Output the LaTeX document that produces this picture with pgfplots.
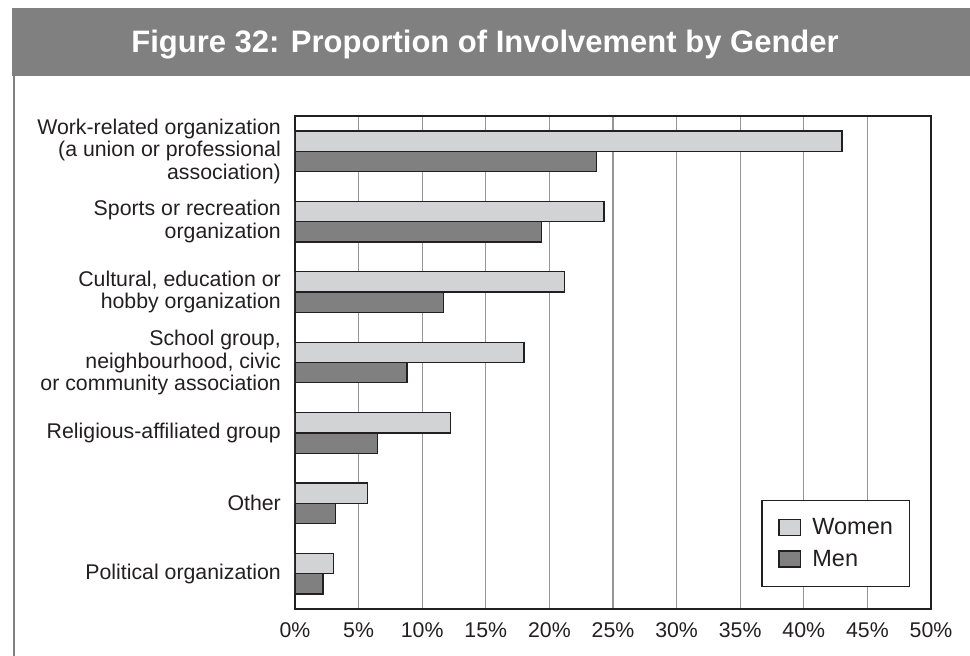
\documentclass[border=0pt]{standalone}
\usepackage{fontspec}
\setmainfont{Liberation Sans}
\usepackage{pgfplots}
\pgfplotsset{compat=1.18}
\definecolor{barwomen}{RGB}{209,211,212}
\definecolor{barmen}{RGB}{128,128,128}
\definecolor{ink}{RGB}{35,31,32}
\definecolor{gridc}{RGB}{150,150,150}
\definecolor{framec}{RGB}{128,128,128}

\begin{document}
\begin{tikzpicture}
\begin{axis}[
  width=636pt,height=493pt,scale only axis,
  xbar,bar width=0.288,
  xmin=0,xmax=50,ymin=-0.5,ymax=6.5,
  xtick={0,5,...,50},
  xticklabel={\pgfmathprintnumber{\tick}\%},
  /pgf/number format/assume math mode=true,
  ytick={0,...,6},
  yticklabels={Political organization,Other,Religious-affiliated group,
    {School group,\\neighbourhood, civic\\or community association},
    {Cultural, education or\\hobby organization},
    {Sports or recreation\\organization},
    {Work-related organization\\(a union or professional\\association)}},
  major tick length=0pt,
  tick label style={font=\fontsize{21.3}{22.7}\selectfont,text=ink},
  yticklabel style={align=right,inner sep=0pt,xshift=-14pt},
  xticklabel style={anchor=base,inner sep=0pt,yshift=-28.7pt},
  xmajorgrids,grid style={gridc,line width=1.2pt},
  axis line style={ink,line width=1.3pt},
  legend style={at={(0.967,0.0446)},anchor=south east,draw=ink,line width=1.2pt,
    font=\fontsize{23.5}{27}\selectfont,text=ink,
    inner xsep=16.5pt,inner ysep=18pt,row sep=14pt,column sep=11pt,
    nodes={inner sep=0pt}},
  legend cell align=left,
  legend image code/.code={\draw[#1,line width=1.2pt] (0pt,-7.5pt) rectangle (21.7pt,8.5pt);},
]
\addplot[fill=barwomen,draw=ink,line width=1.2pt,bar shift=0.144] coordinates {
  (43.0,6) (24.3,5) (21.2,4) (18.0,3) (12.2,2) (5.7,1) (3.0,0)};
\addplot[fill=barmen,draw=ink,line width=1.2pt,bar shift=-0.144] coordinates {
  (23.7,6) (19.4,5) (11.7,4) (8.8,3) (6.5,2) (3.2,1) (2.2,0)};
\legend{Women,Men}
\end{axis}
% title band and left rule, placed relative to the axis corner (295,609 px)
\fill[framec] (-283pt,533pt) rectangle (675pt,601pt);
\draw[framec,line width=2.5pt] (-281pt,-47pt) -- (-281pt,533pt);
\node[anchor=base,text=white,font=\fontsize{31}{36}\selectfont\bfseries,inner sep=0pt]
  at (190pt,556.3pt) {Figure 32: Proportion of Involvement by Gender};
\pgfresetboundingbox
\useasboundingbox (-295pt,-47pt) rectangle (675pt,609pt);
\end{tikzpicture}
\end{document}
